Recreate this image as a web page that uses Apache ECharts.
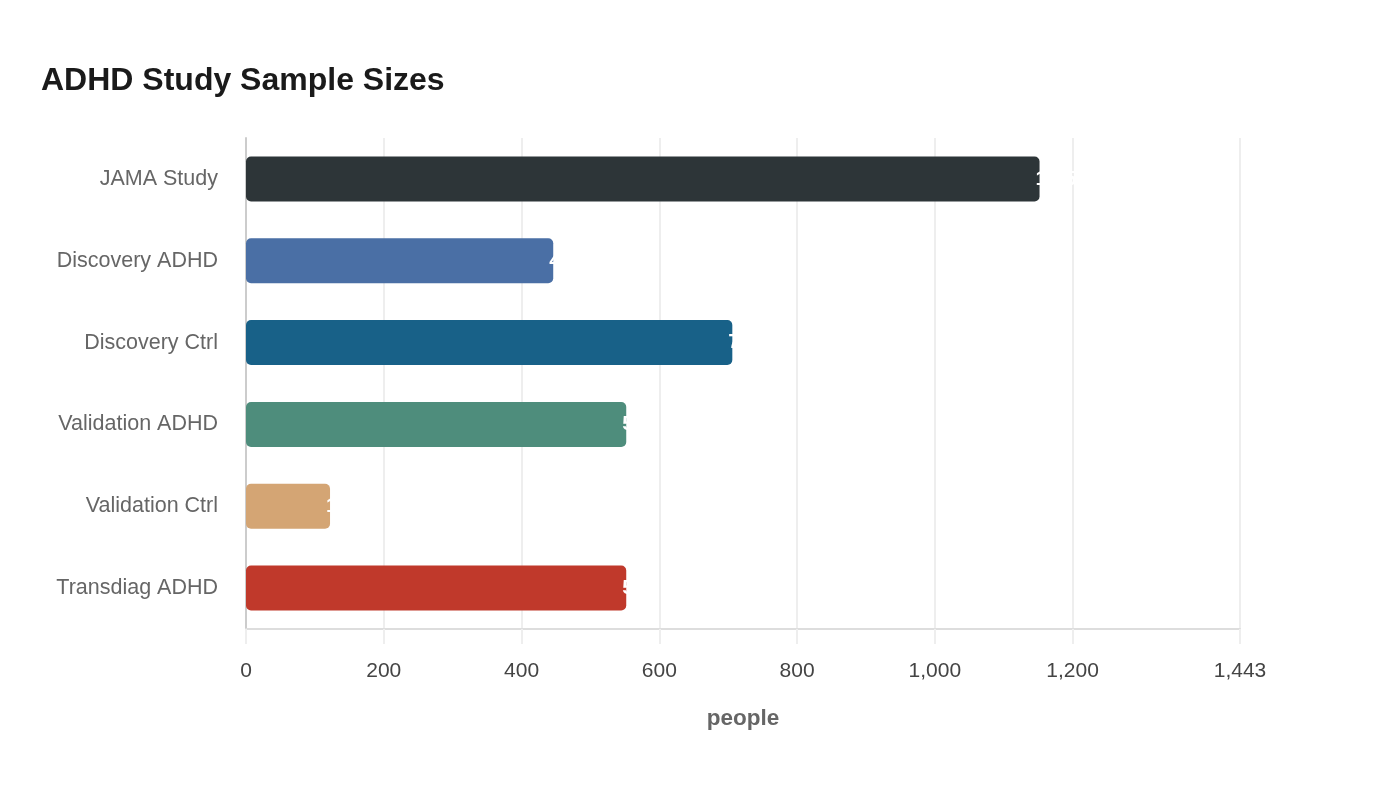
<!DOCTYPE html>
<html>
<head>
  <meta charset="utf-8">
  <title>ADHD Study Sample Sizes</title>
  <script src="https://cdn.jsdelivr.net/npm/echarts@6/dist/echarts.min.js"></script>
</head>
<body style="margin:0;background:#fff">
  <div id="main" style="width:1400px;height:800px;"></div>
  <script type="text/javascript">
    var categories = ['JAMA Study', 'Discovery ADHD', 'Discovery Ctrl', 'Validation ADHD', 'Validation Ctrl', 'Transdiag ADHD'];
    var sampleSizes = [1152, 446, 706, 552, 122, 552];
    var barColors = ['#2d3538', '#4a6fa5', '#186188', '#4e8d7c', '#d4a574', '#c0392b'];
    var axisMax = 1443;
    var tickValues = [0, 200, 400, 600, 800, 1000, 1200, 1443];

    var FONT = '"Liberation Sans", Arial, sans-serif';
    var myChart = echarts.init(document.getElementById('main'), null, { renderer: 'canvas' });

    var option = {
      backgroundColor: '#fff',
      textStyle: { fontFamily: FONT },
      title: {
        text: 'ADHD Study Sample Sizes',
        left: 36,
        top: 60,
        textStyle: { fontSize: 32, fontWeight: 'bold', color: '#1a1a1a', fontFamily: FONT }
      },
      grid: { left: 246, right: 160, top: 138, bottom: 171 },
      xAxis: {
        type: 'value',
        min: 0,
        max: axisMax,
        name: 'people',
        nameLocation: 'middle',
        nameGap: 78,
        nameTextStyle: { fontSize: 22.5, fontWeight: 'bold', color: '#666', fontFamily: FONT },
        axisLine: { show: true, lineStyle: { color: '#ddd', width: 2 } },
        axisTick: { show: true, length: 15, lineStyle: { color: '#eee', width: 2 }, customValues: tickValues },
        splitLine: { show: true, lineStyle: { color: '#eee', width: 2 } },
        axisLabel: {
          fontSize: 21, color: '#444', margin: 32, fontFamily: FONT,
          customValues: tickValues,
          formatter: function (v) { return v.toLocaleString('en-US'); }
        }
      },
      yAxis: {
        type: 'category',
        data: categories,
        inverse: true,
        axisLine: { show: true, lineStyle: { color: '#ccc', width: 2 } },
        axisTick: { show: false },
        axisLabel: { fontSize: 21.5, color: '#666', margin: 28, fontFamily: FONT, padding: [3, 0, 0, 0] }
      },
      series: [{
        type: 'bar',
        data: sampleSizes.map(function (v, i) {
          return { value: v, itemStyle: { color: barColors[i] } };
        }),
        barWidth: '55%',
        itemStyle: { borderRadius: 5 },
        label: {
          show: true,
          position: 'right',
          offset: [-9, 0],
          color: '#fff',
          fontSize: 21,
          fontWeight: 'bold',
          fontFamily: FONT,
          formatter: function (p) { return p.value.toLocaleString('en-US'); }
        }
      }]
    };

    myChart.setOption(option);
  </script>
</body>
</html>
